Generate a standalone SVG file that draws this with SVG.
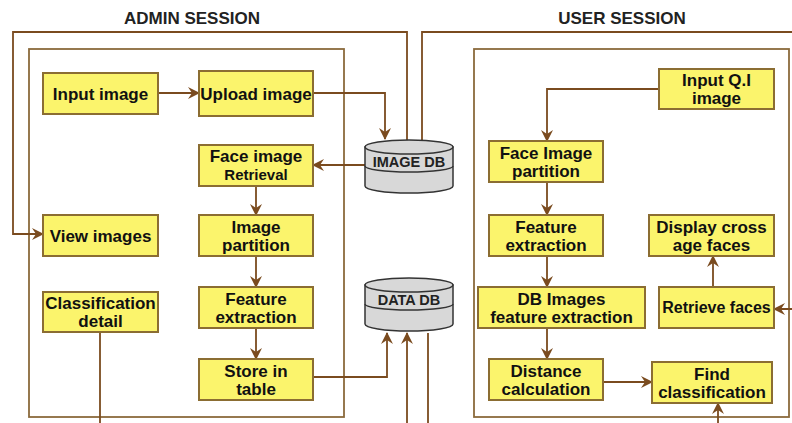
<svg xmlns="http://www.w3.org/2000/svg" width="792" height="423" viewBox="0 0 792 423">
<defs>
<marker id="ah" markerUnits="userSpaceOnUse" markerWidth="12" markerHeight="12" refX="11" refY="6" orient="auto">
<path d="M0,0 L12,6 L0,12 L4,6 z" fill="#7a4b1f"/>
</marker>
</defs>
<style>
.box{fill:#fbf46c;stroke:#8b6d32;stroke-width:2}
.t{font-family:"Liberation Sans",Arial,sans-serif;font-weight:bold;font-size:17px;fill:#111;text-anchor:middle}
.s{font-size:15px}
.title{font-family:"Liberation Sans",Arial,sans-serif;font-weight:bold;font-size:17px;fill:#222;text-anchor:middle}
.frame{fill:none;stroke:#8b6a3c;stroke-width:1.8}
.c{fill:none;stroke:#7a4b1f;stroke-width:1.8}
.ca{fill:none;stroke:#7a4b1f;stroke-width:1.8;marker-end:url(#ah)}
.cyl{fill:#d8d8d8;stroke:#333;stroke-width:1.5}
.cylt{font-family:"Liberation Sans",Arial,sans-serif;font-weight:bold;font-size:14.5px;fill:#222;text-anchor:middle}
</style>
<rect width="792" height="423" fill="#fff"/>
<text class="title" x="192" y="24">ADMIN SESSION</text>
<text class="title" x="622" y="24">USER SESSION</text>
<g id="frames">
<rect class="frame" x="29" y="49" width="315" height="368"/>
<rect class="frame" x="474" y="49" width="315" height="368"/>
</g>
<g id="connectors">
<path class="ca" d="M158,93 H199"/>
<path class="ca" d="M313,93 H385 V139"/>
<path class="ca" d="M365,165 H313"/>
<path class="ca" d="M256,186 V215"/>
<path class="ca" d="M256,256 V287"/>
<path class="ca" d="M256,328 V359"/>
<path class="ca" d="M313,377 H387 V333"/>
<path class="ca" d="M407,430 V333"/>
<path class="c" d="M428,333 V430"/>
<path class="c" d="M100,332 V430"/>
<path class="ca" d="M407,140 V32 H13 V234 H43"/>
<path class="ca" d="M422,140 V32 H800 V309 H774"/>
<path class="ca" d="M659,89 H547 V141"/>
<path class="ca" d="M547,182 V215"/>
<path class="ca" d="M547,256 V287"/>
<path class="ca" d="M547,328 V359"/>
<path class="ca" d="M603,382 H652"/>
<path class="ca" d="M713,287 V256"/>
<path class="ca" d="M718,430 V403"/>
</g>
<g id="input_image"><rect class="box" x="43" y="73" width="115" height="41"/><text class="t" x="100.5" y="99.5">Input image</text></g>
<g id="upload_image"><rect class="box" x="199" y="71" width="114" height="45"/><text class="t" x="256" y="99.5">Upload image</text></g>
<g id="face_image_retrieval"><rect class="box" x="199" y="145" width="114" height="41"/><text class="t" x="256" y="162">Face image</text><text class="t s" x="256" y="180">Retrieval</text></g>
<g id="image_partition"><rect class="box" x="199" y="215" width="114" height="41"/><text class="t" x="256" y="232.5">Image</text><text class="t" x="256" y="250.5">partition</text></g>
<g id="view_images"><rect class="box" x="43" y="215" width="115" height="41"/><text class="t" x="100.5" y="241.5">View images</text></g>
<g id="classification_detail"><rect class="box" x="43" y="292" width="115" height="40"/><text class="t" x="100.5" y="309">Classification</text><text class="t" x="100.5" y="327">detail</text></g>
<g id="feature_extraction_admin"><rect class="box" x="199" y="287" width="114" height="41"/><text class="t" x="256" y="304.5">Feature</text><text class="t" x="256" y="322.5">extraction</text></g>
<g id="store_in_table"><rect class="box" x="199" y="359" width="114" height="41"/><text class="t" x="256" y="376.5">Store in</text><text class="t" x="256" y="394.5">table</text></g>
<g id="image_db">
<path class="cyl" d="M365,147 V186 A44,7 0 0 0 453,186 V147 Z"/>
<ellipse class="cyl" cx="409" cy="147" rx="44" ry="7"/>
<path class="cyl" style="fill:none" d="M365,166 A44,6 0 0 0 453,166"/>
<text class="cylt" x="409" y="167">IMAGE DB</text>
</g>
<g id="data_db">
<path class="cyl" d="M365,285 V324 A44,7 0 0 0 453,324 V285 Z"/>
<ellipse class="cyl" cx="409" cy="285" rx="44" ry="7"/>
<path class="cyl" style="fill:none" d="M365,304 A44,6 0 0 0 453,304"/>
<text class="cylt" x="409" y="305">DATA DB</text>
</g>
<g id="input_qi_image"><rect class="box" x="659" y="69" width="115" height="40"/><text class="t" x="716.5" y="86">Input Q.I</text><text class="t" x="716.5" y="104">image</text></g>
<g id="face_image_partition"><rect class="box" x="489" y="141" width="114" height="41"/><text class="t" x="546" y="158.5">Face Image</text><text class="t" x="546" y="176.5">partition</text></g>
<g id="feature_extraction_user"><rect class="box" x="489" y="215" width="114" height="41"/><text class="t" x="546" y="232.5">Feature</text><text class="t" x="546" y="250.5">extraction</text></g>
<g id="display_cross_age_faces"><rect class="box" x="649" y="215" width="125" height="41"/><text class="t" x="711.5" y="232.5">Display cross</text><text class="t" x="711.5" y="250.5">age faces</text></g>
<g id="db_images_feature_extraction"><rect class="box" x="478" y="287" width="167" height="41"/><text class="t" x="561.5" y="304.5">DB Images</text><text class="t" x="561.5" y="322.5">feature extraction</text></g>
<g id="retrieve_faces"><rect class="box" x="659" y="287" width="115" height="41"/><text class="t" x="716.5" y="313" style="font-size:16px">Retrieve faces</text></g>
<g id="distance_calculation"><rect class="box" x="489" y="359" width="114" height="41"/><text class="t" x="546" y="376.5">Distance</text><text class="t" x="546" y="394.5">calculation</text></g>
<g id="find_classification"><rect class="box" x="652" y="362" width="120" height="41"/><text class="t" x="712" y="379.5">Find</text><text class="t" x="712" y="397.5">classification</text></g>
</svg>
